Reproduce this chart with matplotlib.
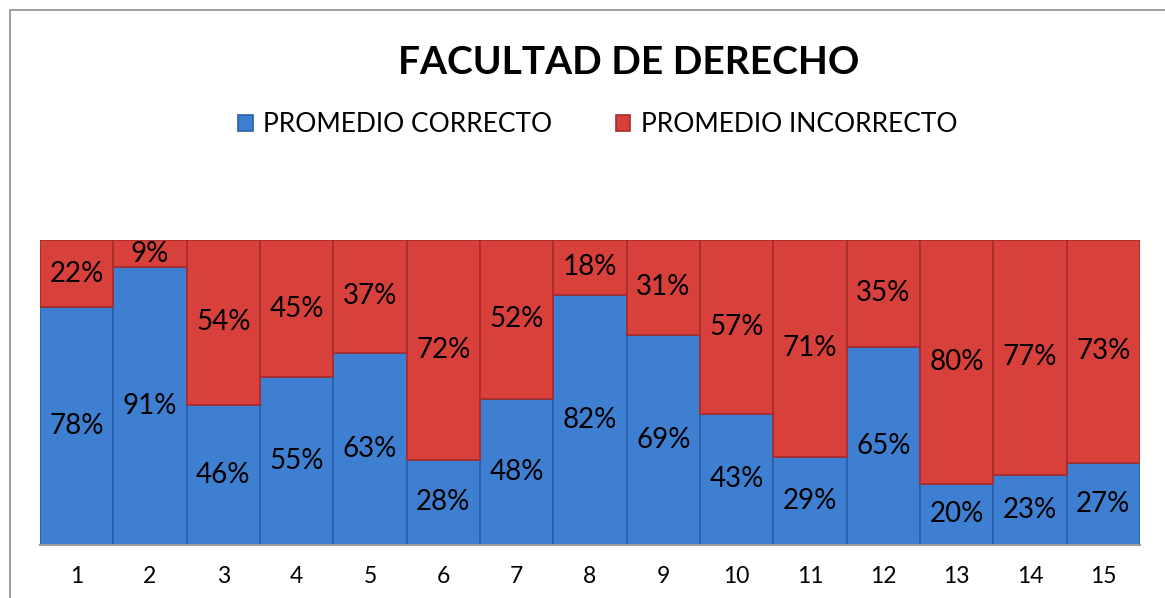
import matplotlib
matplotlib.use("Agg")
import matplotlib.pyplot as plt
from matplotlib.patches import Rectangle

plt.rcParams["font.family"] = ["Lato", "DejaVu Sans"]

CATEGORIES = [str(i) for i in range(1, 16)]
CORRECTO = [78, 91, 46, 55, 63, 28, 48, 82, 69, 43, 29, 65, 20, 23, 27]
INCORRECTO = [22, 9, 54, 45, 37, 72, 52, 18, 31, 57, 71, 35, 80, 77, 73]

BLUE = "#3E7FD1"
BLUE_EDGE = "#2A5FA8"
RED = "#D8403C"
RED_EDGE = "#A82C2A"

fig = plt.figure(figsize=(11.65, 5.98), dpi=100)
ax = fig.add_axes([40 / 1165, 1 - 545 / 598, 1100 / 1165, 305 / 598])

x = list(range(len(CATEGORIES)))
b1 = ax.bar(x, CORRECTO, width=1.0, color=BLUE, edgecolor=BLUE_EDGE, linewidth=1.2,
            label="PROMEDIO CORRECTO")
b2 = ax.bar(x, INCORRECTO, width=1.0, bottom=CORRECTO, color=RED, edgecolor=RED_EDGE,
            linewidth=1.2, label="PROMEDIO INCORRECTO")

for i, (c, w) in enumerate(zip(CORRECTO, INCORRECTO)):
    ax.text(i, c / 2, f"{c}%", ha="center", va="center", fontsize=20, color="black")
    ax.text(i, c + w / 2, f"{w}%", ha="center", va="center", fontsize=20, color="black")

ax.set_xlim(-0.5, len(CATEGORIES) - 0.5)
ax.set_ylim(0, 100)
ax.set_xticks(x)
ax.set_xticklabels(CATEGORIES, fontsize=16.5)
ax.tick_params(axis="x", length=0, pad=15)
ax.set_yticks([])
for side in ["top", "left", "right"]:
    ax.spines[side].set_visible(False)
ax.spines["bottom"].set_color("#9A9A9A")
ax.spines["bottom"].set_linewidth(1.5)

fig.text(0.54, 0.896, "FACULTAD DE DERECHO", ha="center", va="center",
         fontsize=28, fontweight="bold")

fig.legend(handles=[b1, b2], loc="center", bbox_to_anchor=(0.513, 0.791), ncol=2,
           frameon=False, fontsize=19, handlelength=0.55, handleheight=0.55,
           handletextpad=0.4, columnspacing=2.4)

fig.patches.append(Rectangle((10 / 1165, -0.1), 1.2, 1 - 10 / 598 + 0.1,
                             transform=fig.transFigure, fill=False,
                             edgecolor="#8C8C8C", linewidth=1.2))

fig.savefig("out.png", dpi=100)
